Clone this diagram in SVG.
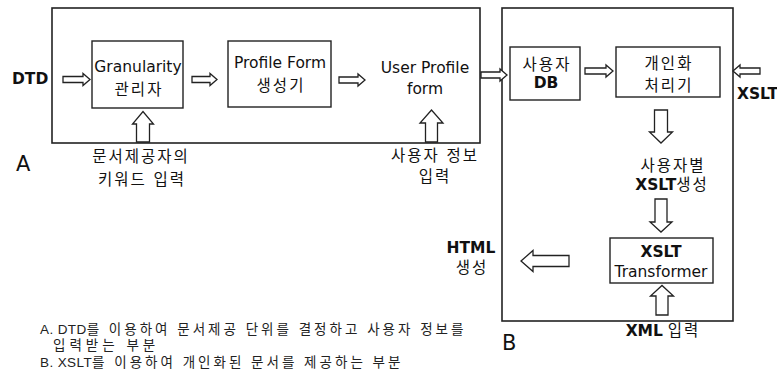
<svg xmlns="http://www.w3.org/2000/svg" width="777" height="379" viewBox="0 0 777 379">
<style>
text{font-family:"DejaVu Sans","Noto Sans CJK KR",sans-serif;fill:#111;font-size:15.5px}
.m{text-anchor:middle}
.b{font-weight:bold}
.k{letter-spacing:2px}
.big{font-size:21px}
.leg{font-family:"Liberation Sans","Noto Sans CJK KR",sans-serif;font-size:13.5px;fill:#222;letter-spacing:3px}
.lat{letter-spacing:0.4px}
.frame{fill:none;stroke:#222;stroke-width:1.6}
.box{fill:#fff;stroke:#222;stroke-width:1.4}
.arr{fill:#fff;stroke:#222;stroke-width:1.3;stroke-linejoin:miter}
</style>
<rect width="777" height="379" fill="#fff"/>
<g id="regionA">
<rect class="frame" x="52" y="8" width="428" height="135"/>
<text class="big" x="16" y="171">A</text>
</g>
<g id="regionB">
<rect class="frame" x="502" y="8" width="231" height="313"/>
<text class="big" x="502" y="350">B</text>
</g>
<g id="dtd"><text class="b" x="12" y="84">DTD</text></g>
<g id="granularity">
<rect class="box" x="92" y="41" width="91" height="67"/>
<text class="m" x="138" y="72">Granularity</text>
<text class="m k" x="139" y="95">관리자</text>
</g>
<g id="profileForm">
<rect class="box" x="228" y="41" width="103" height="66"/>
<text class="m" x="280" y="68">Profile Form</text>
<text class="m k" x="281" y="91">생성기</text>
</g>
<g id="userProfile">
<text class="m" x="425" y="73">User Profile</text>
<text class="m" x="425" y="94">form</text>
</g>
<g id="keywordInput">
<text class="m k" x="141" y="162">문서제공자의</text>
<text class="m k" x="142" y="185">키워드 입력</text>
</g>
<g id="userInfoInput">
<text class="m k" x="435" y="161">사용자 정보</text>
<text class="m k" x="435" y="182">입력</text>
</g>
<g id="userDB">
<rect class="box" x="510" y="47" width="70" height="53"/>
<text class="m k" x="547" y="70">사용자</text>
<text class="m b" x="546" y="88">DB</text>
</g>
<g id="personalizer">
<rect class="box" x="616" y="47" width="104" height="50"/>
<text class="m k" x="669" y="69">개인화</text>
<text class="m k" x="669" y="91">처리기</text>
</g>
<g id="xsltInput"><text class="b" x="737" y="99">XSLT</text></g>
<g id="userXslt">
<text class="m k" x="673" y="171">사용자별</text>
<text class="m" x="672" y="190"><tspan class="b">XSLT</tspan><tspan class="k">생성</tspan></text>
</g>
<g id="transformer">
<rect class="box" x="610" y="238" width="103" height="45"/>
<text class="m b" x="661" y="257">XSLT</text>
<text class="m" x="661" y="277">Transformer</text>
</g>
<g id="html">
<text class="m b" x="471" y="253">HTML</text>
<text class="m k" x="472" y="273">생성</text>
</g>
<g id="xmlInput">
<text class="m" x="663" y="336"><tspan class="b">XML</tspan> <tspan class="k">입력</tspan></text>
</g>
<g id="connectors">
<path class="arr" d="M63 76.5H83V73.5L90 79.5L83 85.5V82.5H63Z"/>
<path class="arr" d="M192 76.5H210V73.5L217 79.5L210 85.5V82.5H192Z"/>
<path class="arr" d="M339 77H358V74L365 80L358 86V83H339Z"/>
<path class="arr" d="M481 72H500V69L507 75L500 81V78H481Z"/>
<path class="arr" d="M585 68H606V65L613 71L606 77V74H585Z"/>
<path class="arr" d="M760 68H740V65L733 71L740 77V74H760Z"/>
<path class="arr" d="M569 255.5H533V250.5L521 261L533 271.5V266.5H569Z"/>
<path class="arr" d="M136.5 142V124H132.5L143 111.5L153.5 124H149.5V142Z"/>
<path class="arr" d="M425.5 142V123H420L431.5 110L443 123H437.5V142Z"/>
<path class="arr" d="M656 315V296H650.5L662 285.5L673.5 296H668V315Z"/>
<path class="arr" d="M654.5 110V132H649.5L661 143L672.5 132H667.5V110Z"/>
<path class="arr" d="M655 199V222H650L661 232L672 222H667V199Z"/>
</g>
<g id="legend">
<text class="leg" x="40" y="334"><tspan class="lat">A. DTD</tspan>를 이용하여 문서제공 단위를 결정하고 사용자 정보를</text>
<text class="leg" x="53" y="350" style="letter-spacing:4px">입력받는 부분</text>
<text class="leg" x="40" y="367"><tspan class="lat">B. XSLT</tspan>를 이용하여 개인화된 문서를 제공하는 부분</text>
</g>
</svg>
